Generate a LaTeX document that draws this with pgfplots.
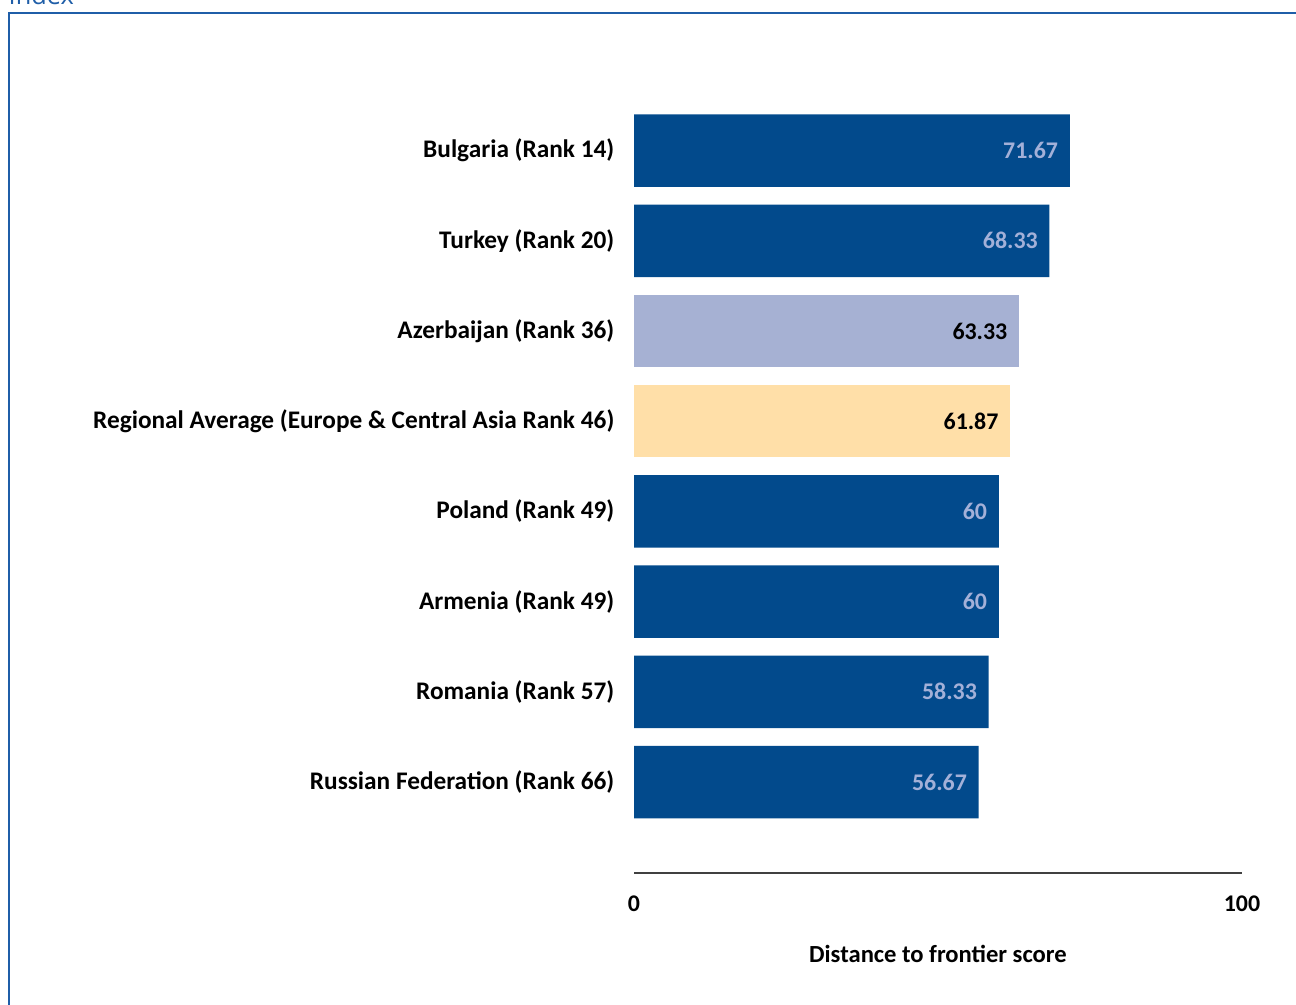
\documentclass[border=0pt]{standalone}
\usepackage{pgfplots}
\pgfplotsset{compat=1.18}
\usepackage{fontspec}
\setmainfont{Carlito}
\newfontfamily\indexfont{Open Sans}
\definecolor{darkbar}{HTML}{024A8C}
\definecolor{lightbar}{HTML}{A6B1D3}
\definecolor{peachbar}{HTML}{FFDFA8}
\definecolor{lighttext}{HTML}{A3B0D8}
\definecolor{framecol}{HTML}{1F5EA8}
\begin{document}
\begin{tikzpicture}
\clip (0,0) rectangle (12.96,10.04);
\path[fill=white] (0,0) rectangle (12.96,10.04);
\node[anchor=base west, inner sep=0pt, font=\indexfont\fontsize{7.2}{8}\selectfont, text=framecol] at (0.08,9.99) {Index};
\draw[framecol, line width=0.022cm] (0.09,-0.5) -- (0.09,9.91) -- (13.5,9.91);
\begin{axis}[
  at={(6.34cm,1.31cm)}, anchor=south west,
  scale only axis,
  width=6.08cm, height=8.126cm,
  xmin=0, xmax=100, ymin=-1.0089, ymax=8,
  xbar, bar width=0.725cm, bar shift=0pt,
  axis x line*=bottom, axis y line*=left,
  x axis line style={draw=black!75, line width=0.018cm},
  y axis line style={draw=none},
  major tick length=0pt,
  xtick={0,100}, ytick={0,1,2,3,4,5,6,7},
  yticklabels={Russian Federation (Rank 66),Romania (Rank 57),Armenia (Rank 49),Poland (Rank 49),Regional Average (Europe \& Central Asia Rank 46),Azerbaijan (Rank 36),Turkey (Rank 20),Bulgaria (Rank 14)},
  font=\bfseries\fontsize{6.7}{8}\selectfont,
  /pgf/number format/assume math mode=true,
  yticklabel style={anchor=east, inner sep=0pt, xshift=-0.19cm, font=\bfseries\fontsize{7.2}{8}\selectfont},
  xticklabel style={anchor=north, inner sep=0pt, yshift=-0.22cm, font=\bfseries\fontsize{6.8}{8}\selectfont},
  xlabel={Distance to frontier score},
  xlabel style={at={(axis description cs:0.5,0)}, anchor=north, inner sep=0pt, yshift=-0.71cm, font=\bfseries\fontsize{7.0}{8}\selectfont},
  nodes near coords,
  point meta=explicit symbolic,
  nodes near coords style={anchor=east, inner sep=0pt, xshift=-0.11cm, font=\bfseries\fontsize{6.8}{8}\selectfont},
]
\addplot[fill=darkbar, draw=none, nodes near coords style={text=lighttext}] table[meta=lab] {
x y lab
71.67 7 71.67
68.33 6 68.33
60 3 60
60 2 60
58.33 1 58.33
56.67 0 56.67
};
\addplot[fill=lightbar, draw=none, nodes near coords style={text=black}] table[meta=lab] {
x y lab
63.33 5 63.33
};
\addplot[fill=peachbar, draw=none, nodes near coords style={text=black}] table[meta=lab] {
x y lab
61.87 4 61.87
};
\end{axis}
\end{tikzpicture}
\end{document}
